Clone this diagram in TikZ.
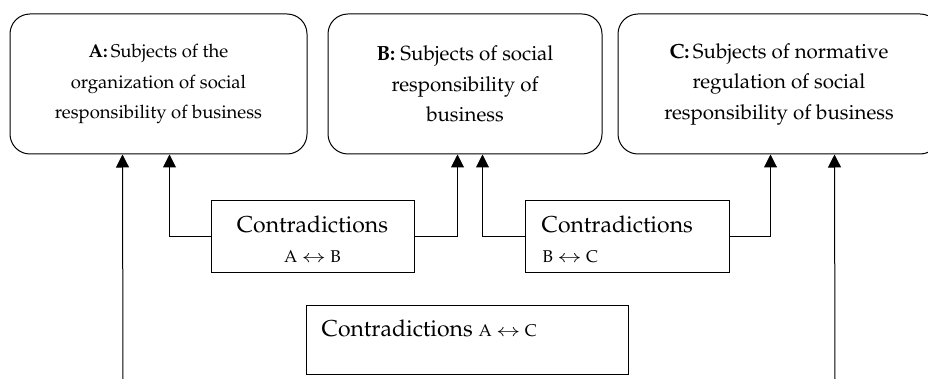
\documentclass[tikz,border=0pt]{standalone}
\usepackage[T1]{fontenc}
\usepackage{mathpazo}
\usepackage{graphicx}
\usetikzlibrary{arrows.meta}
\newcommand{\wlr}{\scalebox{1.35}[1.0]{$\leftrightarrow$}}
\begin{document}
\begin{tikzpicture}[x=1pt,y=-1pt,
  rbox/.style={draw, line width=1pt, rounded corners=20pt, minimum height=140pt, inner sep=0pt, align=center},
  cbox/.style={draw, line width=1pt, inner sep=0pt},
  topA/.style={font=\fontsize{18.5}{30.5}\selectfont},
  topB/.style={font=\fontsize{20.5}{30.5}\selectfont},
  big/.style={inner sep=0pt, font=\fontsize{23}{28}\selectfont},
  small/.style={inner sep=0pt, font=\fontsize{17}{20}\selectfont},
  conn/.style={line width=1pt, -{Triangle[width=13pt,length=13pt]}}]
\useasboundingbox (0,0) rectangle (928,379);
% top boxes
\node[rbox, topA, minimum width=297pt] (A) at (158.5,84) {\textbf{A:}\,Subjects of the\\organization of social\\responsibility of business};
\node[rbox, topB, minimum width=274pt] (B) at (465,84) {\textbf{B:} Subjects of social\\responsibility of\\business};
\node[rbox, topB, minimum width=322pt] (C) at (779,84) {\textbf{C:}\,Subjects of normative\\regulation of social\\responsibility of business};
% contradiction boxes
\node[cbox, minimum width=203pt, minimum height=71pt] (AB) at (312.5,236.5) {};
\node[big, anchor=base] (ABt) at ([yshift=-32pt]AB.north) {Contradictions};
\node[small, anchor=base] (ABs) at ([yshift=-62pt]AB.north) {A \wlr{} B};
\node[cbox, minimum width=204pt, minimum height=71pt] (BC) at (627,236.5) {};
\node[big, anchor=base west] (BCt) at ([xshift=17pt,yshift=-32pt]BC.north west) {Contradictions};
\node[small, anchor=base west] (BCs) at ([xshift=18pt,yshift=-62pt]BC.north west) {B \wlr{} C};
\node[cbox, minimum width=322pt, minimum height=69pt] (AC) at (467,339.5) {};
\node[big, anchor=base west] (ACt) at ([xshift=16pt,yshift=-32pt]AC.north west) {Contradictions {\fontsize{17}{20}\selectfont A \wlr{} C}};
% connectors
\coordinate (a0) at (123,385);
\coordinate (c0) at (835,385);
\draw[conn] (a0) -- ([xshift=113pt]A.south west);
\draw[conn] (c0) -- ([xshift=217pt]C.south west);
\draw[conn] (AB.west) -| ([xshift=160pt]A.south west);
\draw[conn] (AB.east) -| ([xshift=130pt]B.south west);
\draw[conn] (BC.west) -| ([xshift=155pt]B.south west);
\draw[conn] (BC.east) -| ([xshift=153pt]C.south west);
\end{tikzpicture}
\end{document}
